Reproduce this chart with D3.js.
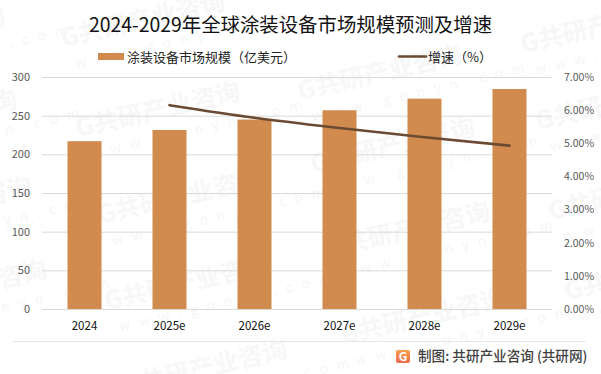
<!DOCTYPE html>
<html>
<head>
<meta charset="utf-8">
<script src="https://cdn.jsdelivr.net/npm/d3@7"></script>
<style>
  html, body { margin: 0; padding: 0; background: #fff; }
  text { font-family: "Noto Sans CJK SC", "Noto Sans", sans-serif; }
  .domain { display: none; }
</style>
</head>
<body>
<div id="chart"></div>
<script>
var categories = ["2024", "2025e", "2026e", "2027e", "2028e", "2029e"];
var marketSize = [217, 231.5, 245, 257, 272, 284.5];
var growthRate = [null, 6.15, 5.77, 5.46, 5.18, 4.93];
var leftTicks = [0, 50, 100, 150, 200, 250, 300];
var rightTicks = [0, 1, 2, 3, 4, 5, 6, 7];
var titleText = "2024-2029年全球涂装设备市场规模预测及增速";
var barName = "涂装设备市场规模（亿美元）";
var lineName = "增速（%）";
var sourceText = "制图: 共研产业咨询 (共研网)";

var width = 601, height = 374;
var margin = {top: 77, right: 49, bottom: 65, left: 42};

var svg = d3.select("#chart")
  .append("svg")
    .attr("width", width)
    .attr("height", height)
    .style("display", "block");

// watermark, sits behind everything
var wmStarts = [
  [-157, 62], [-145, 145], [-130, 232], [-115, 315],
  [63, 47], [78, 137], [100, 224], [107, 310], [125, 395],
  [300, 100], [313, 173], [328, 257], [343, 344],
  [523, 53], [538, 130], [551, 220], [567, 300]
];
var wm = svg.append("g").selectAll("g")
  .data(wmStarts)
  .enter()
  .append("g")
    .attr("transform", function(d) { return "translate(" + d[0] + "," + d[1] + ") rotate(-13)"; });
wm.append("text")
  .attr("font-size", 25)
  .attr("font-weight", 700)
  .attr("fill", "#f7f7f7")
  .text("G共研产业咨询");
wm.append("text")
  .attr("x", 8)
  .attr("y", 24)
  .attr("font-size", 14)
  .attr("letter-spacing", 9)
  .attr("fill", "#f6f6f6")
  .text("www.gonyn.com");

var x = d3.scaleBand()
  .domain(categories)
  .range([margin.left, width - margin.right])
  .paddingInner(0.6)
  .paddingOuter(0.3);

var y = d3.scaleLinear()
  .domain([0, 300])
  .range([height - margin.bottom, margin.top]);

var yRight = d3.scaleLinear()
  .domain([0, 7])
  .range([height - margin.bottom, margin.top]);

// left axis + gridlines
var yAxis = svg.append("g")
  .attr("transform", "translate(" + margin.left + ",0)")
  .call(d3.axisLeft(y).tickValues(leftTicks).tickSize(0).tickPadding(12));
yAxis.selectAll("text").attr("font-size", 11).attr("fill", "#595959");

svg.append("g")
  .attr("transform", "translate(" + margin.left + ",0)")
  .call(d3.axisLeft(y).tickValues(leftTicks).tickSize(-(width - margin.left - margin.right)).tickFormat(""))
  .selectAll("line")
    .attr("stroke", "#d9d9d9")
    .attr("stroke-width", 1);

var yAxisRight = svg.append("g")
  .attr("transform", "translate(" + (width - margin.right) + ",0)")
  .call(d3.axisRight(yRight).tickValues(rightTicks).tickSize(0).tickPadding(12)
    .tickFormat(function(d) { return d.toFixed(2) + "%"; }));
yAxisRight.selectAll("text").attr("font-size", 10.5).attr("fill", "#595959");

var xAxis = svg.append("g")
  .attr("transform", "translate(0," + (height - margin.bottom) + ")")
  .call(d3.axisBottom(x).tickSize(0).tickPadding(13));
xAxis.selectAll("text").attr("font-size", 11.5).attr("fill", "#111");

// bars
svg.selectAll(".bar")
  .data(marketSize)
  .enter()
  .append("rect")
    .attr("class", "bar")
    .attr("x", function(d, i) { return x(categories[i]); })
    .attr("y", function(d) { return y(d); })
    .attr("width", x.bandwidth())
    .attr("height", function(d) { return y(0) - y(d); })
    .attr("fill", "#d18b4f");

// growth line
var line = d3.line()
  .defined(function(d) { return d != null; })
  .x(function(d, i) { return x(categories[i]) + x.bandwidth() / 2; })
  .y(function(d) { return yRight(d); })
  .curve(d3.curveMonotoneX);

svg.append("path")
  .datum(growthRate)
  .attr("fill", "none")
  .attr("stroke", "#6b4a31")
  .attr("stroke-width", 2.6)
  .attr("stroke-linecap", "round")
  .attr("d", line);

// title
svg.append("text")
  .attr("x", 290.5)
  .attr("y", 32)
  .attr("text-anchor", "middle")
  .attr("font-size", 19.4)
  .attr("fill", "#111")
  .text(titleText);

// legend
svg.append("rect")
  .attr("x", 98).attr("y", 53)
  .attr("width", 26).attr("height", 7)
  .attr("fill", "#d18b4f");
svg.append("text")
  .attr("x", 127).attr("y", 62)
  .attr("font-size", 13)
  .attr("fill", "#222")
  .text(barName);
svg.append("line")
  .attr("x1", 399).attr("x2", 426)
  .attr("y1", 56.5).attr("y2", 56.5)
  .attr("stroke", "#6b4a31")
  .attr("stroke-width", 2.6)
  .attr("stroke-linecap", "round");
svg.append("text")
  .attr("x", 428).attr("y", 62)
  .attr("font-size", 13)
  .attr("fill", "#222")
  .text(lineName);

// footer
svg.append("line")
  .attr("x1", 13).attr("x2", 586)
  .attr("y1", 341.5).attr("y2", 341.5)
  .attr("stroke", "#e6e6e6");

var grad = svg.append("defs").append("linearGradient")
  .attr("id", "logoGrad")
  .attr("x1", 0).attr("y1", 0).attr("x2", 0).attr("y2", 1);
grad.append("stop").attr("offset", 0).attr("stop-color", "#f6a24a");
grad.append("stop").attr("offset", 1).attr("stop-color", "#ee6b4d");

svg.append("rect")
  .attr("x", 396).attr("y", 350)
  .attr("width", 14).attr("height", 13)
  .attr("rx", 2)
  .attr("fill", "url(#logoGrad)");
svg.append("text")
  .attr("x", 403).attr("y", 361)
  .attr("text-anchor", "middle")
  .attr("font-size", 12)
  .attr("font-weight", 700)
  .attr("fill", "#fff")
  .text("G");

svg.append("text")
  .attr("x", 418).attr("y", 361)
  .attr("font-size", 13.6)
  .attr("font-weight", 500)
  .attr("fill", "#404040")
  .text(sourceText);
</script>
</body>
</html>
